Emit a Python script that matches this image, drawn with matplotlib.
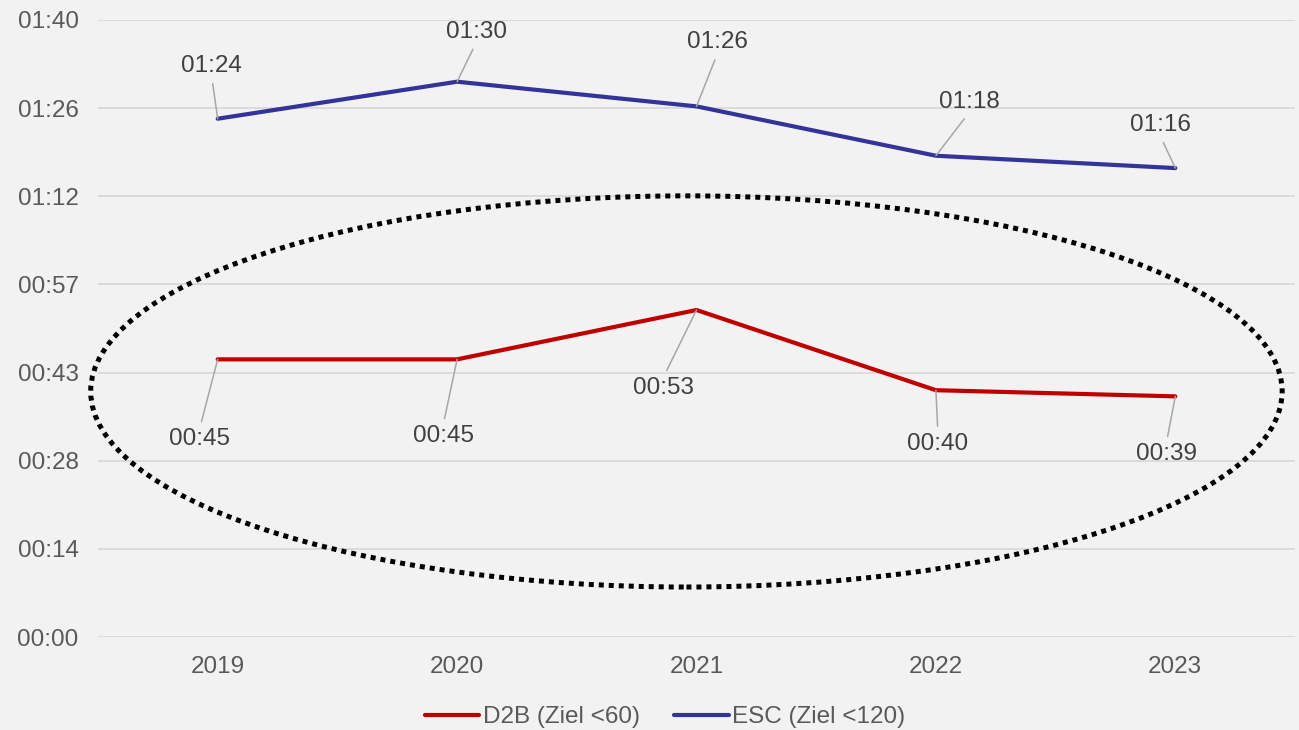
import matplotlib
matplotlib.use("Agg")
import matplotlib.pyplot as plt
from matplotlib.patches import Ellipse

plt.rcParams['font.family'] = ['Liberation Sans', 'DejaVu Sans']

# Yearly median times in minutes
years = ["2019", "2020", "2021", "2022", "2023"]
d2b_minutes = [45, 45, 53, 40, 39]
esc_minutes = [84, 90, 86, 78, 76]

series_names = ["D2B (Ziel <60)", "ESC (Ziel <120)"]
y_tick_labels = ["00:00", "00:14", "00:28", "00:43", "00:57", "01:12", "01:26", "01:40"]
y_max = 100

# label placement (pixel offsets from each point to its label centre)
esc_label_offsets = [(-6, 53), (19, 50), (21, 64), (33, 54), (-15, 43)]
d2b_label_offsets = [(-18, -80), (-14, -77), (-33, -78), (2, -54), (-9, -58)]

RED = "#C00000"
BLUE = "#333399"
BG = "#F2F2F2"
GRID = "#D9D9D9"
TICK_TXT = "#595959"
LABEL_TXT = "#404040"
LEADER = "#A6A6A6"
FS = 17.5


def fmt(minutes):
    return f"{int(minutes) // 60:02d}:{int(minutes) % 60:02d}"


fig = plt.figure(figsize=(12.99, 7.30), dpi=100, facecolor=BG)
ax = fig.add_axes([98 / 1299, 1 - 637 / 730, (1295 - 98) / 1299, (637 - 20) / 730])
ax.set_facecolor(BG)

x = list(range(len(years)))
ax.set_xlim(-0.5, len(years) - 0.5)
ax.set_ylim(0, y_max)

yticks = [i * y_max / (len(y_tick_labels) - 1) for i in range(len(y_tick_labels))]
ax.set_yticks(yticks)
ax.set_yticklabels(y_tick_labels)
ax.set_xticks(x)
ax.set_xticklabels(years)
ax.tick_params(axis='both', length=0, labelsize=FS, labelcolor=TICK_TXT)
ax.tick_params(axis='y', pad=14)
ax.tick_params(axis='x', pad=14)
ax.grid(axis='y', color=GRID, lw=1.3)
ax.set_axisbelow(True)
for s in ax.spines.values():
    s.set_visible(False)

ax.plot(x, d2b_minutes, color=RED, lw=3.0, solid_capstyle='round',
        solid_joinstyle='round', label=series_names[0], zorder=3)
ax.plot(x, esc_minutes, color=BLUE, lw=3.0, solid_capstyle='round',
        solid_joinstyle='round', label=series_names[1], zorder=3)


def add_labels(values, offsets):
    for xi, v, (dx, dy) in zip(x, values, offsets):
        rel = (0.5, 0.0) if dy > 0 else (0.5, 1.0)
        ax.annotate(fmt(v), xy=(xi, v), xytext=(dx, dy), textcoords='offset pixels',
                    ha='center', va='center', fontsize=FS, color=LABEL_TXT,
                    arrowprops=dict(arrowstyle='-', color=LEADER, lw=1.1,
                                    shrinkA=3, shrinkB=0, relpos=rel),
                    zorder=4)


add_labels(esc_minutes, esc_label_offsets)
add_labels(d2b_minutes, d2b_label_offsets)

# dotted ring around the D2B series
ring = Ellipse((1.958, 39.8), width=4.977, height=63.4, fill=False,
               edgecolor='black', lw=3.6, linestyle=(0, (1, 1)),
               clip_on=False, zorder=5)
ax.add_patch(ring)

leg = fig.legend(loc='center', bbox_to_anchor=(665 / 1299, 1 - 717 / 730),
                 ncol=2, frameon=False, fontsize=FS, handlelength=2.25,
                 handletextpad=0.15, columnspacing=1.4, labelcolor=TICK_TXT)

fig.savefig("out.png", dpi=100, facecolor=BG)
